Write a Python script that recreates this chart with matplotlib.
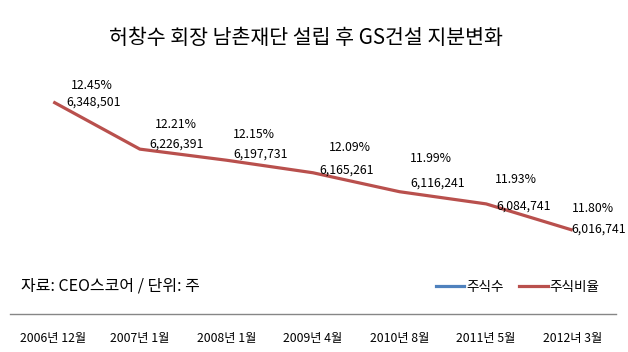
import matplotlib.pyplot as plt
from matplotlib.lines import Line2D

plt.rcParams['font.family'] = ['Noto Sans CJK KR', 'DejaVu Sans']

# 데이터
periods = ['2006년 12월', '2007년 1월', '2008년 1월', '2009년 4월',
           '2010년 8월', '2011년 5월', '2012녀 3월']
shares = [6348501, 6226391, 6197731, 6165261, 6116241, 6084741, 6016741]
ratios = [12.45, 12.21, 12.15, 12.09, 11.99, 11.93, 11.80]

# 라벨 위치 (픽셀 오프셋: 비율, 주식수)
pct_off = [(39, 16), (36, 25), (27, 26), (37, 25), (31, 33), (30, 24), (20, 22)]
num_off = [(40, 0), (37, 5), (34, 6), (34, 3), (38, 9), (37, -2), (26, 1)]

RED = '#B9504D'
BLUE = '#4F81BD'

fig = plt.figure(figsize=(6.28, 3.52), dpi=100)
ax = fig.add_axes([10 / 628, 1 - 314 / 352, 606 / 628, 232 / 352])

x = list(range(len(periods)))
ax.plot(x, shares, color=RED, linewidth=2.3, solid_capstyle='butt')

for i in x:
    ax.annotate(f'{ratios[i]:.2f}%', (i, shares[i]), xytext=pct_off[i],
                textcoords='offset pixels', ha='center', va='center',
                fontsize=8.8, color='black')
    ax.annotate(f'{shares[i]:,}', (i, shares[i]), xytext=num_off[i],
                textcoords='offset pixels', ha='center', va='center',
                fontsize=8.8, color='black')

ax.set_xlim(-0.5, len(periods) - 0.5)
ax.set_ylim(5800000, 6400000)
for s in ['top', 'left', 'right']:
    ax.spines[s].set_visible(False)
ax.spines['bottom'].set_color('#868686')
ax.spines['bottom'].set_linewidth(1)
ax.set_yticks([])
ax.set_xticks(x)
ax.set_xticklabels(periods, fontsize=8.8)
ax.tick_params(axis='x', length=0, pad=13)

fig.text(306 / 628, 1 - 38 / 352, '허창수 회장 남촌재단 설립 후 GS건설 지분변화',
         ha='center', va='center', fontsize=14.8)
fig.text(21 / 628, 1 - 286 / 352, '자료: CEO스코어 / 단위: 주',
         ha='left', va='center', fontsize=11.5)

handles = [Line2D([], [], color=BLUE, linewidth=2.3),
           Line2D([], [], color=RED, linewidth=2.3)]
fig.legend(handles, ['주식수', '주식비율'], loc='center right',
           bbox_to_anchor=(605 / 628, 1 - 287 / 352), ncol=2, frameon=False,
           fontsize=9.8, handlelength=2.1, handletextpad=0.15, columnspacing=1.1,
           borderaxespad=0)

fig.savefig('out.png', dpi=100, facecolor='white')
